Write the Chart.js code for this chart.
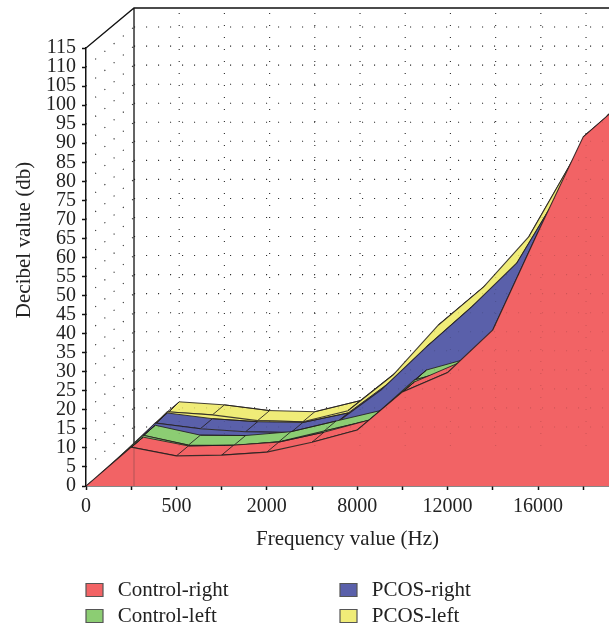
<!DOCTYPE html>
<html>
<head>
<meta charset="utf-8">
<script src="https://cdn.jsdelivr.net/npm/chart.js@4/dist/chart.umd.min.js"></script>
<style>
html,body{margin:0;padding:0;background:#fff;overflow:hidden}
canvas{display:block}
</style>
</head>
<body>
<canvas id="c" width="609" height="629"></canvas>
<script>
const frequencies = [0, 250, 500, 1000, 2000, 4000, 8000, 10000, 12000, 14000, 16000, 18000, 20000];
const xTickLabels = ['0', '', '500', '', '2000', '', '8000', '', '12000', '', '16000', ''];
const seriesNames = ['Control-right', 'Control-left', 'PCOS-right', 'PCOS-left'];
const controlRight = [0, 10.2, 7.9, 8.1, 8.9, 11.5, 14.7, 24.7, 29.8, 41, 66.7, 91.7, 102];
const controlLeft  = [0, 10.7, 8.1, 8, 9, 11.8, 14.6, 25.2, 28.5, 40, 66, 90, 101];
const pcosRight    = [0, 11.3, 9.8, 9, 8.8, 11.3, 20, 31.3, 41.8, 53.3, 73, 92, 103];
const pcosLeft     = [0, 11.6, 10.8, 9.3, 9, 11.9, 21.3, 34.4, 44.4, 57.6, 78.3, 93, 104];
const seriesValues = [controlRight, controlLeft, pcosRight, pcosLeft];
const seriesColors = ['#f26365', '#8ccd73', '#5a60aa', '#f0ec78'];

const SERIF = '"Liberation Serif", serif';
const INK = '#222';
const EDGE = 'rgba(35,30,30,0.85)';
// 3D depth of one series layer, in axis units
const DEPTH_X = 0.2655, DEPTH_Y = 2.625, LAYERS = 4;
const X_MAX = 11.57, Y_MAX = 115;

const edge = (vals, layer) => vals.map((v, i) => ({x: i + layer * DEPTH_X, y: v + layer * DEPTH_Y}));
function zigzag(vals, d) {
  const f = edge(vals, d), b = edge(vals, d + 1), out = [];
  vals.forEach((_, i) => { if (i % 2 === 0) out.push(f[i], b[i]); else out.push(b[i], f[i]); });
  return out;
}

const datasets = [];
seriesNames.forEach((name, d) => {
  const vals = seriesValues[d], col = seriesColors[d], base = datasets.length;
  // front face, on top of its own ribbon
  datasets.push({label: name, data: edge(vals, d), backgroundColor: col, borderColor: EDGE, borderWidth: 1.1, fill: 'origin', pointRadius: 0, tension: 0});
  // ribbon outline and cross lines
  datasets.push({label: '', data: zigzag(vals, d), borderColor: EDGE, borderWidth: 1, fill: false, pointRadius: 0, tension: 0});
  // ribbon surface between front and back edges
  datasets.push({label: '', data: edge(vals, d + 1), backgroundColor: col, borderColor: EDGE, borderWidth: 1, fill: base, pointRadius: 0, tension: 0});
});

function wallLines(chart, style, alpha) {
  const {ctx, scales: {x, y}} = chart;
  const bx = LAYERS * DEPTH_X, by = LAYERS * DEPTH_Y;
  ctx.save();
  ctx.beginPath();
  ctx.rect(0, 0, chart.width, chart.height);
  ctx.clip();
  ctx.strokeStyle = style;
  ctx.globalAlpha = alpha;
  ctx.lineWidth = 1.1;
  ctx.setLineDash([1.1, 10.9]);
  const line = (a, b, c, d) => {
    ctx.beginPath();
    ctx.moveTo(x.getPixelForValue(a), y.getPixelForValue(b));
    ctx.lineTo(x.getPixelForValue(c), y.getPixelForValue(d));
    ctx.stroke();
  };
  for (let v = 5; v < Y_MAX; v += 5) {
    line(bx, v + by, X_MAX + bx, v + by);
    line(0, v, bx, v + by);
  }
  for (let i = 1; i <= 11; i++) line(i + bx, by, i + bx, Y_MAX + by);
  ctx.restore();
}

const walls = {
  id: 'walls',
  beforeDraw(chart) {
    const lg = chart.legend, padding = 5;
    lg.left = 86 - padding; lg.top = 574.5; lg.right = 609; lg.bottom = 640; lg.width = 523; lg.height = 65.5;
    lg.columnSizes = [{width: 254 - padding, height: 52}, {width: 150, height: 52}];
  },
  beforeDatasetsDraw(chart) {
    wallLines(chart, '#222', 0.9);
    const {ctx, scales: {x, y}} = chart;
    const bx = LAYERS * DEPTH_X, by = LAYERS * DEPTH_Y;
    const px = v => x.getPixelForValue(v), py = v => y.getPixelForValue(v);
    ctx.save();
    ctx.strokeStyle = '#111';
    ctx.lineWidth = 1.3;
    ctx.beginPath();
    ctx.moveTo(px(0), py(Y_MAX));
    ctx.lineTo(px(bx), py(Y_MAX + by));
    ctx.lineTo(chart.width, py(Y_MAX + by));
    ctx.moveTo(px(bx), py(Y_MAX + by));
    ctx.lineTo(px(bx), py(by));
    ctx.stroke();
    ctx.restore();
  },
  afterDatasetsDraw(chart) {
    wallLines(chart, '#000', 0.14);
    const {ctx, scales: {x, y}} = chart;
    const bx = LAYERS * DEPTH_X, by = LAYERS * DEPTH_Y;
    ctx.save();
    ctx.strokeStyle = 'rgba(60,60,60,0.35)';
    ctx.beginPath();
    ctx.moveTo(x.getPixelForValue(bx), y.getPixelForValue(by));
    ctx.lineTo(x.getPixelForValue(bx), y.getPixelForValue(0));
    ctx.stroke();
    ctx.restore();
  }
};

function shiftTitle(s, dx, dy) {
  if (s._shifted) return;
  s._shifted = true;
  const orig = s.drawTitle;
  s.drawTitle = function () {
    s.ctx.save();
    s.ctx.translate(dx, dy);
    orig.call(s);
    s.ctx.restore();
  };
}

new Chart(document.getElementById('c'), {
  type: 'line',
  data: {datasets},
  plugins: [walls],
  options: {
    responsive: false,
    animation: false,
    events: [],
    layout: {padding: {top: 48, right: 0, left: 0, bottom: 0}},
    plugins: {
      tooltip: {enabled: false},
      title: {display: false},
      filler: {propagate: false},
      legend: {
        display: true,
        position: 'chartArea',
        align: 'start',
        labels: {
          boxWidth: 17,
          boxHeight: 13,
          padding: 5,
          color: INK,
          font: {family: SERIF, size: 21, lineHeight: 1.2},
          generateLabels(chart) {
            return seriesNames.map((name, d) => ({
              text: '\u2009' + name,
              fillStyle: seriesColors[d],
              strokeStyle: '#555',
              lineWidth: 1.2,
              datasetIndex: d * 3,
              fontColor: INK,
              hidden: false
            }));
          }
        }
      }
    },
    scales: {
      x: {
        type: 'linear',
        min: 0,
        max: X_MAX,
        afterFit(s) { s.height = 143; },
        afterUpdate(s) { shiftTitle(s, 0, -77); },
        border: {color: '#111', width: 1.5},
        grid: {drawOnChartArea: false, drawTicks: true, tickLength: 4, tickColor: '#111', tickWidth: 1.5},
        ticks: {
          stepSize: 1,
          includeBounds: false,
          autoSkip: false,
          maxRotation: 0,
          padding: 5,
          color: INK,
          font: {family: SERIF, size: 20},
          callback: v => xTickLabels[v] ?? ''
        },
        title: {display: true, text: 'Frequency value (Hz)', color: INK, font: {family: SERIF, size: 21}, padding: {top: 11, bottom: 0}}
      },
      y: {
        type: 'linear',
        min: 0,
        max: Y_MAX,
        afterFit(s) { s.width = 86; },
        afterUpdate(s) { shiftTitle(s, 12, -27); },
        border: {color: '#111', width: 1.5},
        grid: {drawOnChartArea: false, drawTicks: true, tickLength: 4, tickColor: '#111', tickWidth: 1.5},
        ticks: {stepSize: 5, autoSkip: false, padding: 6, color: INK, font: {family: SERIF, size: 20}},
        title: {display: true, text: 'Decibel value (db)', color: INK, font: {family: SERIF, size: 21}, padding: {top: 0, bottom: 0}}
      }
    }
  }
});
</script>
</body>
</html>
